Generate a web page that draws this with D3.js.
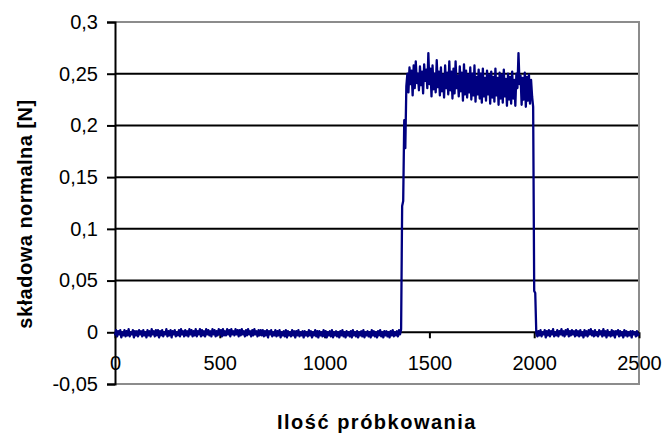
<!DOCTYPE html>
<html>
<head>
<meta charset="utf-8">
<script src="https://cdn.jsdelivr.net/npm/d3@7"></script>
<style>
  body { margin: 0; background: #fff; }
  svg { display: block; font-family: "Liberation Sans", Arial, sans-serif; }
  .grid line { stroke: #000; stroke-width: 2; }
  .signal { fill: none; stroke: #000080; stroke-width: 2.3; stroke-linejoin: round; }
</style>
</head>
<body>
<div id="chart"></div>
<script>
// sample spacing of the values below (one value read every 5 samples)
var sampleStep = 5;

// samples 0..1365, at rest
var baselineBefore = [
  -.003,.002,-.004,.001,-.002,.002,-.005,.000,-.003,.002,-.004,.001,-.003,.003,-.004,.000,-.002,.002,-.005,.001,
  -.003,.001,-.004,.002,-.002,.001,-.004,.002,-.003,.000,-.005,.002,-.003,.001,-.004,.003,-.002,.001,-.004,.002,
  -.003,.002,-.005,.001,-.003,.002,-.004,.000,-.002,.003,-.004,.001,-.003,.002,-.005,.001,-.002,.002,-.004,.000,
  -.003,.002,-.004,.003,-.002,.001,-.004,.002,-.003,.001,-.004,.003,-.002,.002,-.004,.001,-.003,.003,-.004,.001,
  -.002,.003,-.004,.002,-.003,.001,-.004,.003,-.002,.002,-.003,.001,-.004,.003,-.002,.002,-.004,.001,-.003,.003,
  -.002,.002,-.004,.003,-.003,.001,-.003,.003,-.002,.002,-.004,.003,-.002,.001,-.003,.003,-.002,.002,-.004,.002,
  -.003,.003,-.002,.001,-.004,.002,-.003,.003,-.002,.001,-.004,.002,-.003,.003,-.002,.001,-.004,.002,-.003,.002,
  -.003,.002,-.004,.001,-.003,.002,-.005,.001,-.002,.002,-.004,.000,-.003,.002,-.004,.001,-.003,.002,-.005,.000,
  -.003,.001,-.004,.002,-.005,.001,-.003,.000,-.004,.002,-.003,.001,-.005,.001,-.003,.002,-.004,.000,-.003,.001,
  -.005,.001,-.003,.000,-.004,.002,-.003,.001,-.005,.000,-.003,.002,-.004,.001,-.005,.001,-.003,.000,-.004,.002,
  -.004,.001,-.005,.000,-.003,.001,-.004,.002,-.005,.000,-.003,.001,-.004,.000,-.005,.001,-.003,.002,-.004,.000,
  -.005,.001,-.003,.000,-.004,.001,-.005,.002,-.003,.000,-.004,.001,-.005,.000,-.003,.001,-.004,.002,-.005,.000,
  -.003,.001,-.004,.000,-.005,.002,-.003,.001,-.004,.000,-.005,.001,-.003,.002,-.004,.000,-.005,.001,-.003,.001,
  -.004,.000,-.005,.001,-.003,.002,-.004,.000,-.003,.001,-.004,.002,-.002,.003
];
// samples 1370..1385
var rise = [.122, .127, .205, .178];
// samples 1390..1995
var plateau = [
  .238,.250,.232,.256,.240,.253,.229,.258,.236,.262,.241,.250,.234,.257,.239,.252,.231,.259,.243,.254,
  .236,.270,.240,.255,.228,.258,.235,.250,.232,.263,.237,.252,.229,.256,.233,.249,.227,.258,.236,.251,
  .230,.262,.234,.252,.226,.255,.231,.262,.236,.248,.228,.257,.233,.251,.224,.259,.230,.253,.227,.249,
  .232,.256,.225,.250,.229,.258,.223,.247,.230,.254,.226,.250,.222,.255,.228,.246,.224,.253,.230,.249,
  .221,.252,.227,.247,.223,.255,.229,.246,.220,.251,.226,.249,.222,.254,.228,.245,.219,.250,.225,.247,
  .221,.252,.226,.244,.219,.250,.236,.270,.240,.248,.220,.246,.225,.251,.218,.247,.224,.249,.221,.244,
  .228,.218
];
// samples 2000..2005
var fall = [.040, .038];
// samples 2010..2500
var baselineAfter = [
  -.001,-.004,.001,-.003,.002,-.004,.000,-.002,.002,-.005,.001,-.003,.002,-.004,.001,-.002,.003,-.004,.000,-.003,
  .002,-.004,.001,-.002,.003,-.003,.001,-.004,.002,-.002,.003,-.004,.001,-.003,.002,-.002,.001,-.004,.002,-.003,
  .001,-.004,.002,-.003,.000,-.005,.002,-.003,.001,-.004,.002,-.002,.003,-.003,.001,-.004,.002,-.003,.000,-.004,
  .002,-.002,.001,-.004,.003,-.003,.001,-.005,.002,-.003,.000,-.004,.002,-.003,.001,-.005,.001,-.002,.002,-.004,
  .001,-.003,.000,-.005,.002,-.003,.001,-.004,.000,-.003,.001,-.005,.001,-.002,.000,-.004,.001,-.003,-.001
];

var xTicks = [0, 500, 1000, 1500, 2000, 2500];
var yTicks = [-0.05, 0, 0.05, 0.1, 0.15, 0.2, 0.25, 0.3];
var xTitle = "Ilość próbkowania";
var yTitle = "składowa normalna [N]";

var values = baselineBefore.concat(rise, plateau, fall, baselineAfter);

var svg = d3.select("#chart")
    .append("svg")
    .attr("width", 665)
    .attr("height", 434);

var margin = {top: 22, right: 26, bottom: 50, left: 115},
    width = +svg.attr("width") - margin.left - margin.right,
    height = +svg.attr("height") - margin.top - margin.bottom;

var x = d3.scaleLinear().domain([0, 2500]).range([margin.left, margin.left + width]);
var y = d3.scaleLinear().domain([-0.05, 0.3]).range([margin.top + height, margin.top]);

var fmt = function(d) { return String(d).replace(".", ","); };

// gridlines between 0 and the top
svg.append("g")
    .attr("class", "grid")
    .selectAll("line")
    .data(yTicks.filter(function(d) { return d > 0 && d < 0.3; }))
  .enter().append("line")
    .attr("x1", x(0))
    .attr("x2", x(2500))
    .attr("y1", function(d) { return y(d); })
    .attr("y2", function(d) { return y(d); });

// grey frame on top, right and bottom
svg.append("path")
    .attr("d", "M" + x(0) + "," + y(0.3) + "H" + x(2500) + "V" + y(-0.05) + "H" + x(0))
    .attr("fill", "none")
    .attr("stroke", "#8c8c8c")
    .attr("stroke-width", 2);

// y axis
var yAxis = svg.append("g")
    .attr("transform", "translate(" + x(0) + ",0)")
    .call(d3.axisLeft(y).tickValues(yTicks).tickFormat(fmt).tickSize(8).tickPadding(9));

// x axis sits on the zero line
var xAxis = svg.append("g")
    .attr("transform", "translate(0," + y(0) + ")")
    .call(d3.axisBottom(x).tickValues(xTicks).tickFormat(function(d) { return d; }).tickSize(6).tickPadding(18));

[yAxis, xAxis].forEach(function(a) {
  a.select(".domain").attr("stroke", "#000").attr("stroke-width", 2);
  a.selectAll(".tick line").attr("stroke", "#000").attr("stroke-width", 2);
  a.selectAll(".tick text")
      .attr("fill", "#000")
      .style("font-size", "20px")
      .style("font-family", "'Liberation Sans', Arial, sans-serif");
});
xAxis.select(".domain").attr("d", "M" + x(0) + ",0H" + x(2500));

// signal
svg.append("path")
    .datum(values)
    .attr("class", "signal")
    .attr("d", d3.line()
        .x(function(d, i) { return x(i * sampleStep); })
        .y(function(d) { return y(d); }));

// axis titles
svg.append("text")
    .attr("x", 377)
    .attr("y", 429)
    .attr("text-anchor", "middle")
    .style("font-size", "20px")
    .style("font-weight", "bold")
    .style("letter-spacing", "1.5px")
    .text(xTitle);

svg.append("text")
    .attr("transform", "translate(32,214) rotate(-90)")
    .attr("text-anchor", "middle")
    .style("font-size", "20px")
    .style("font-weight", "bold")
    .style("letter-spacing", "0.5px")
    .text(yTitle);
</script>
</body>
</html>
